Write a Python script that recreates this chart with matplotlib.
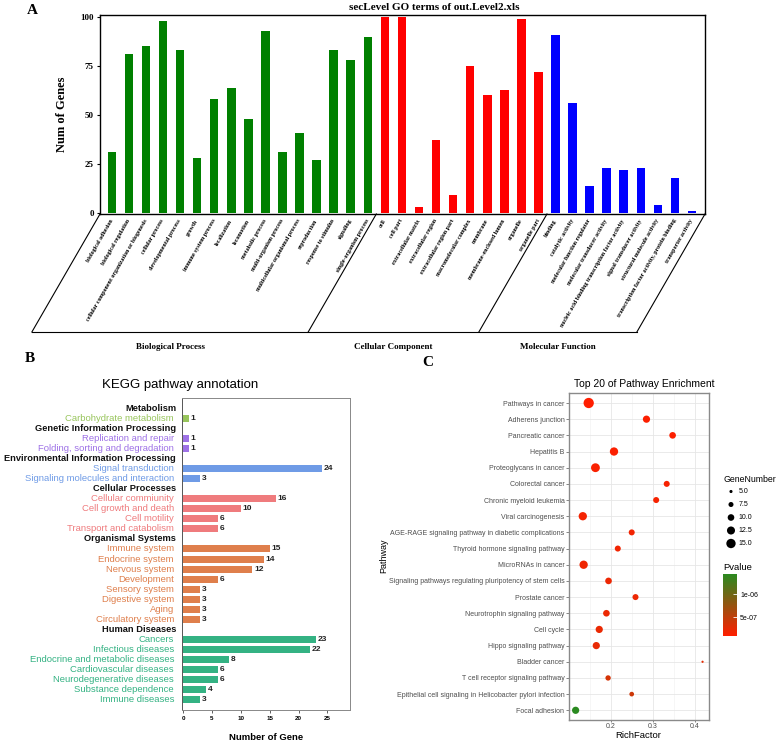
import numpy as np
import matplotlib
matplotlib.use("Agg")
import matplotlib.pyplot as plt
from matplotlib.colors import LinearSegmentedColormap, Normalize
from matplotlib.cm import ScalarMappable
from matplotlib.lines import Line2D
from matplotlib.transforms import blended_transform_factory

# ---- data: panel A (GO level 2) ----
bp_terms = ["biological adhesion", "biological regulation",
            "cellular component organization or biogenesis", "cellular process",
            "developmental process", "growth", "immune system process", "localization",
            "locomotion", "metabolic process", "multi-organism process",
            "multicellular organismal process", "reproduction", "response to stimulus",
            "signaling", "single-organism process"]
bp_vals = [31, 81, 85, 98, 83, 28, 58, 64, 48, 93, 31, 41, 27, 83, 78, 90]
cc_terms = ["cell", "cell part", "extracellular matrix", "extracellular region",
            "extracellular region part", "macromolecular complex", "membrane",
            "membrane-enclosed lumen", "organelle", "organelle part"]
cc_vals = [100, 100, 3, 37, 9, 75, 60, 63, 99, 72]
mf_terms = ["binding", "catalytic activity", "molecular function regulator",
            "molecular transducer activity",
            "nucleic acid binding transcription factor activity",
            "signal transducer activity", "structural molecule activity",
            "transcription factor activity, protein binding", "transporter activity"]
mf_vals = [91, 56, 14, 23, 22, 23, 4, 18, 1]
go_groups = ["Biological Process", "Cellular Component", "Molecular Function"]

# ---- data: panel B (KEGG annotation) ----
kegg_groups = ["Metabolism", "Genetic Information Processing",
               "Environmental Information Processing", "Cellular Processes",
               "Organismal Systems", "Human Diseases"]
kegg_terms = [
    ["Carbohydrate metabolism"],
    ["Replication and repair", "Folding, sorting and degradation"],
    ["Signal transduction", "Signaling molecules and interaction"],
    ["Cellular commiunity", "Cell growth and death", "Cell motility",
     "Transport and catabolism"],
    ["Immune system", "Endocrine system", "Nervous system", "Development",
     "Sensory system", "Digestive system", "Aging", "Circulatory system"],
    ["Cancers", "Infectious diseases", "Endocrine and metabolic diseases",
     "Cardiovascular diseases", "Neurodegenerative diseases",
     "Substance dependence", "Immune diseases"],
]
kegg_vals = [[1], [1, 1], [24, 3], [16, 10, 6, 6], [15, 14, 12, 6, 3, 3, 3, 3],
             [23, 22, 8, 6, 6, 4, 3]]
kegg_colors = ["#98c55c", "#9e72e6", "#6f9be6", "#ef7b7d", "#df7f4c", "#34b283"]

# ---- data: panel C (top 20 enrichment) ----
pathways = ["Pathways in cancer", "Adherens junction", "Pancreatic cancer", "Hepatitis B",
            "Proteoglycans in cancer", "Colorectal cancer", "Chronic myeloid leukemia",
            "Viral carcinogenesis", "AGE-RAGE signaling pathway in diabetic complications",
            "Thyroid hormone signaling pathway", "MicroRNAs in cancer",
            "Signaling pathways regulating pluripotency of stem cells", "Prostate cancer",
            "Neurotrophin signaling pathway", "Cell cycle", "Hippo signaling pathway",
            "Bladder cancer", "T cell receptor signaling pathway",
            "Epithelial cell signaling in Helicobacter pylori infection", "Focal adhesion"]
rich_factor = [0.148, 0.285, 0.347, 0.208, 0.164, 0.333, 0.308, 0.134, 0.250, 0.217,
               0.136, 0.195, 0.259, 0.190, 0.173, 0.166, 0.418, 0.194, 0.250, 0.117]
gene_number = [17, 11, 10, 13, 14, 9, 9, 13, 9, 9, 13, 10, 9, 10, 11, 11, 4, 8, 7, 11]
pvalue = [1.0e-7, 1.2e-7, 1.2e-7, 1.3e-7, 1.4e-7, 1.5e-7, 1.6e-7, 1.7e-7, 1.8e-7, 1.9e-7,
          2.0e-7, 2.1e-7, 2.1e-7, 2.2e-7, 2.3e-7, 2.5e-7, 2.8e-7, 3.6e-7, 4.2e-7, 1.43e-6]
size_legend = [5.0, 7.5, 10.0, 12.5, 15.0]

W, H = 778, 742
fig = plt.figure(figsize=(W / 100, H / 100), dpi=100)
SERIF = "Liberation Serif"
SANS = "Liberation Sans"


def fx(px):
    return px / W


def fy(py):
    return 1 - py / H


def add_ax(left, top, right, bottom):
    return fig.add_axes([fx(left), fy(bottom), (right - left) / W, (bottom - top) / H])


# ================= Panel A =================
axA = add_ax(100, 15, 705, 214)
go_terms = bp_terms + cc_terms + mf_terms
go_vals = bp_vals + cc_vals + mf_vals
go_cols = ["#008000"] * len(bp_terms) + ["#ff0000"] * len(cc_terms) + ["#0000ff"] * len(mf_terms)
xA = np.arange(len(go_terms))
axA.bar(xA, go_vals, width=0.5, color=go_cols)
axA.set_xlim(-0.69, len(go_terms) - 0.24)
axA.set_ylim(-0.5, 101)
axA.set_yticks([0, 25, 50, 75, 100])
axA.set_yticklabels(["0", "25", "50", "75", "100"], family=SERIF, weight="bold", fontsize=6.5)
axA.tick_params(axis="y", length=2.5, width=0.8, pad=2)
axA.set_xticks(xA)
axA.set_xticklabels(go_terms, rotation=60, ha="right", va="center", rotation_mode="anchor",
                    family=SERIF, weight="bold", fontsize=4.3)
axA.tick_params(axis="x", length=0, pad=4)
for s in axA.spines.values():
    s.set_linewidth(1.0)
axA.set_ylabel("Num of Genes", family=SERIF, weight="bold", fontsize=9)
axA.yaxis.set_label_coords(-32 / 605, 0.5)
fig.text(fx(434), fy(7), "secLevel GO terms of out.Level2.xls", ha="center", va="center",
         family=SERIF, weight="bold", fontsize=8)

# group brackets below the labels
fig.canvas.draw()
tb = blended_transform_factory(axA.transData, axA.transAxes)
inv = fig.transFigure.inverted()
n1, n2 = len(bp_terms), len(bp_terms) + len(cc_terms)
xl = axA.get_xlim()
bounds = [xl[0], n1 - 0.5, n2 - 0.5, xl[1]]
drop = 118
ang = np.deg2rad(60)
bottoms = []
for b in bounds:
    top = tb.transform((b, 0))
    bot = (top[0] - drop / np.tan(ang), top[1] - drop)
    p0, p1 = inv.transform(top), inv.transform(bot)
    fig.add_artist(Line2D([p0[0], p1[0]], [p0[1], p1[1]], transform=fig.transFigure,
                          color="black", lw=0.8))
    bottoms.append(p1)
fig.add_artist(Line2D([bottoms[0][0], bottoms[-1][0]], [bottoms[0][1], bottoms[-1][1]],
                      transform=fig.transFigure, color="black", lw=0.8))
for i, g in enumerate(go_groups):
    xm = (bottoms[i][0] + bottoms[i + 1][0]) / 2
    fig.text(xm, bottoms[0][1] - 15 / H, g, ha="center", va="center",
             family=SERIF, weight="bold", fontsize=6.5)

fig.text(fx(32), fy(10), "A", ha="center", va="center", family=SERIF, weight="bold", fontsize=11)

# ================= Panel B =================
axB = add_ax(182, 398, 350, 710)
tB = blended_transform_factory(axB.transAxes, axB.transData)
row = 0
for g, terms, vals, col in zip(kegg_groups, kegg_terms, kegg_vals, kegg_colors):
    axB.text(-6 / 168, row, g, transform=tB, ha="right", va="center", family=SANS,
             weight="bold", fontsize=6.7, color="#111111")
    row += 1
    ys = np.arange(row, row + len(terms))
    axB.barh(ys, vals, height=0.7, color=col)
    for y, t, v in zip(ys, terms, vals):
        axB.text(-8 / 168, y, t, transform=tB, ha="right", va="center", family=SANS,
                 fontsize=6.8, color=col)
        axB.text(v + 0.28, y, str(v), ha="left", va="center", family=SANS, weight="bold",
                 fontsize=6, color="#222222")
    row += len(terms)
axB.set_xlim(-0.2, 28.9)
axB.set_ylim(row, -1)
axB.set_yticks([])
axB.set_xticks([0, 5, 10, 15, 20, 25])
axB.set_xticklabels(["0", "5", "10", "15", "20", "25"], family=SANS, weight="bold", fontsize=4.5)
axB.tick_params(axis="x", length=2, width=0.6, pad=2, color="#444444")
for s in axB.spines.values():
    s.set_color("#888888")
    s.set_linewidth(0.7)
axB.spines["left"].set_color("#555555")
fig.text(fx(266), fy(737), "Number of Gene", ha="center", va="center", family=SANS,
         weight="bold", fontsize=6.8)
fig.text(fx(180), fy(385), "KEGG pathway annotation", ha="center", va="center", family=SANS,
         fontsize=9.5)
fig.text(fx(30), fy(359), "B", ha="center", va="center", family=SERIF, weight="bold", fontsize=11)

# ================= Panel C =================
axC = add_ax(569.3, 393.3, 709.3, 720)
cmap = LinearSegmentedColormap.from_list("pv", ["#ff1e00", "#2a8a20"])
norm = Normalize(vmin=min(pvalue), vmax=max(pvalue))


def dot_size(n):
    d = 1.6 + 5.8 * (np.sqrt(n) - 2.0) / (np.sqrt(17) - 2.0)
    return d ** 2


yC = np.arange(len(pathways))
axC.scatter(rich_factor, yC, s=dot_size(np.array(gene_number)), c=pvalue, cmap=cmap,
            norm=norm, linewidths=0, zorder=3)
axC.set_xlim(0.102, 0.434)
axC.set_ylim(len(pathways) - 0.4, -0.6)
axC.set_yticks(yC)
axC.set_yticklabels(pathways, family=SANS, fontsize=5, color="#4d4d4d")
axC.set_xticks([0.2, 0.3, 0.4])
axC.set_xticklabels(["0.2", "0.3", "0.4"], family=SANS, fontsize=5, color="#4d4d4d")
axC.set_xticks([0.15, 0.25, 0.35], minor=True)
axC.tick_params(axis="both", which="major", length=2, width=0.5, color="#555555", pad=1.5)
axC.tick_params(axis="x", which="major", length=1.5, pad=0.8)
axC.tick_params(axis="x", which="minor", length=0)
axC.grid(True, which="major", color="#e6e6e6", lw=0.6, zorder=0)
axC.grid(True, which="minor", axis="x", color="#f0f0f0", lw=0.4, zorder=0)
axC.set_axisbelow(True)
for s in axC.spines.values():
    s.set_color("#8a8a8a")
    s.set_linewidth(1.0)
fig.text(fx(638), fy(736), "RichFactor", ha="center", va="center", family=SANS, fontsize=6.8)
fig.text(fx(384), fy(556), "Pathway", ha="center", va="center", rotation=90, family=SANS,
         fontsize=6.5)
fig.text(fx(644), fy(384), "Top 20 of Pathway Enrichment", ha="center", va="center",
         family=SANS, fontsize=7.5)
fig.text(fx(428), fy(363), "C", ha="center", va="center", family=SERIF, weight="bold", fontsize=11)

# size legend
axL = add_ax(723, 485, 770, 550)
axL.set_xlim(0, 1)
axL.set_ylim(len(size_legend) - 0.5, -0.5)
axL.axis("off")
axL.scatter([0.17] * len(size_legend), np.arange(len(size_legend)),
            s=dot_size(np.array(size_legend)), color="black", linewidths=0)
for i, v in enumerate(size_legend):
    axL.text(0.33, i, f"{v:.1f}", ha="left", va="center", family=SANS, fontsize=5)
fig.text(fx(723), fy(480), "GeneNumber", ha="left", va="center", family=SANS, fontsize=6.3)

# colour bar
fig.text(fx(723), fy(567), "Pvalue", ha="left", va="center", family=SANS, fontsize=6.8)
cax = add_ax(723, 574, 737.3, 636)
cb = fig.colorbar(ScalarMappable(norm=norm, cmap=cmap), cax=cax, ticks=[5e-7, 1e-6])
cb.ax.set_yticklabels(["5e-07", "1e-06"], family=SANS, fontsize=5)
cb.outline.set_visible(False)
cb.ax.tick_params(color="white", length=3, width=0.6, direction="in", pad=2)

fig.savefig("out.png", dpi=100)
